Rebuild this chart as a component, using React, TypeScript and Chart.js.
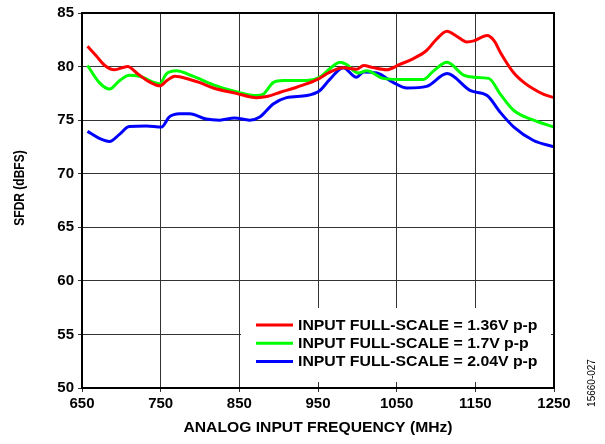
import React, { useEffect, useRef } from "react";
import { Chart, registerables } from "chart.js";

Chart.register(...registerables);

const xTicks = [650, 750, 850, 950, 1050, 1150, 1250];
const yTicks = [50, 55, 60, 65, 70, 75, 80, 85];

const xTitle = "ANALOG INPUT FREQUENCY (MHz)";
const yTitle = "SFDR (dBFS)";
const figureId = "15660-027";

const seriesLabels = [
  "INPUT FULL-SCALE = 1.36V p-p",
  "INPUT FULL-SCALE = 1.7V p-p",
  "INPUT FULL-SCALE = 2.04V p-p",
];
const seriesColors = ["#ff0000", "#00ff00", "#0000ff"];

const redFreq = [657, 668, 679, 691, 708, 721, 735, 749, 758, 768, 787, 800, 817, 846, 872, 885, 902, 920, 936, 952, 963, 982, 999, 1008, 1020, 1037, 1054, 1070, 1088, 1100, 1114, 1127, 1139, 1148, 1165, 1174, 1182, 1199, 1212, 1224, 1237, 1250];
const redSfdr = [81.9, 81.0, 80.1, 79.7, 80.0, 79.3, 78.6, 78.2, 78.7, 79.1, 78.8, 78.5, 78.0, 77.5, 77.1, 77.2, 77.6, 78.0, 78.4, 78.9, 79.4, 79.9, 79.75, 80.1, 79.9, 79.7, 80.2, 80.7, 81.5, 82.5, 83.3, 82.8, 82.3, 82.4, 82.9, 82.4, 81.3, 79.4, 78.5, 77.9, 77.4, 77.1];

const greenFreq = [657, 672, 685, 698, 710, 723, 749, 757, 770, 791, 817, 846, 872, 880, 893, 906, 936, 952, 965, 978, 986, 1001, 1012, 1033, 1054, 1084, 1097, 1114, 1135, 1148, 1167, 1182, 1199, 1224, 1250];
const greenSfdr = [80.1, 78.5, 77.9, 78.7, 79.2, 79.1, 78.4, 79.3, 79.6, 79.1, 78.3, 77.65, 77.3, 77.4, 78.5, 78.7, 78.7, 79.0, 79.8, 80.4, 80.2, 79.4, 79.6, 78.9, 78.8, 78.8, 79.6, 80.4, 79.2, 79.0, 78.9, 77.4, 75.9, 75.0, 74.35];

const blueFreq = [657, 672, 685, 698, 710, 732, 751, 761, 774, 787, 808, 825, 844, 863, 876, 893, 910, 936, 952, 965, 982, 999, 1008, 1025, 1046, 1063, 1088, 1114, 1144, 1165, 1182, 1199, 1224, 1250];
const blueSfdr = [73.95, 73.3, 73.0, 73.7, 74.4, 74.45, 74.35, 75.3, 75.6, 75.6, 75.1, 75.0, 75.2, 75.0, 75.3, 76.5, 77.1, 77.3, 77.75, 78.8, 79.9, 79.0, 79.5, 79.4, 78.5, 78.0, 78.15, 79.35, 77.75, 77.3, 75.7, 74.35, 73.1, 72.5];

const FONT = "'Liberation Sans', Arial, sans-serif";

const toPoints = (fx: number[], fy: number[]) => fx.map((x, i) => ({ x, y: fy[i] }));

const overlayPlugin = {
  id: "overlay",
  afterDatasetsDraw(chart: any) {
    const { ctx, chartArea } = chart;
    const { left, right, top, bottom } = chartArea;
    ctx.save();
    // legend box
    const bx = 241, by = 308, bw = right - 3 - bx, bh = 74;
    ctx.fillStyle = "#ffffff";
    ctx.fillRect(bx, by, bw, bh);
    ctx.textBaseline = "middle";
    ctx.textAlign = "left";
    seriesLabels.forEach((lab, i) => {
      const y = 325 + i * 18.3;
      ctx.strokeStyle = seriesColors[i];
      ctx.lineWidth = 3;
      ctx.beginPath();
      ctx.moveTo(256, y);
      ctx.lineTo(293, y);
      ctx.stroke();
      ctx.save();
      ctx.translate(298, y + 1);
      ctx.scale(1.13, 1);
      ctx.font = `bold 14px ${FONT}`;
      ctx.fillStyle = "#000";
      ctx.fillText(lab, 0, 0);
      ctx.restore();
    });
    // frame
    ctx.strokeStyle = "#000";
    ctx.lineWidth = 2;
    ctx.strokeRect(left, top, right - left, bottom - top);
    ctx.fillStyle = "#000";
    // x title
    ctx.save();
    ctx.translate((left + right) / 2, 428);
    ctx.scale(1.12, 1);
    ctx.font = `bold 14px ${FONT}`;
    ctx.textAlign = "center";
    ctx.fillText(xTitle, 0, 0);
    ctx.restore();
    // y title
    ctx.save();
    ctx.translate(20, 188);
    ctx.scale(1.17, 1);
    ctx.rotate(-Math.PI / 2);
    ctx.font = `bold 12px ${FONT}`;
    ctx.textAlign = "center";
    ctx.fillText(yTitle, 0, 0);
    ctx.restore();
    // figure id
    ctx.save();
    ctx.translate(592, 383);
    ctx.rotate(-Math.PI / 2);
    ctx.font = `10px ${FONT}`;
    ctx.textAlign = "center";
    ctx.fillText(figureId, 0, 0);
    ctx.restore();
    ctx.restore();
  },
};

export default function App() {
  const ref = useRef<HTMLCanvasElement>(null);
  useEffect(() => {
    if (!ref.current) return;
    const chart = new Chart(ref.current, {
      type: "line",
      data: {
        datasets: [
          { label: seriesLabels[0], data: toPoints(redFreq, redSfdr), borderColor: seriesColors[0] },
          { label: seriesLabels[1], data: toPoints(greenFreq, greenSfdr), borderColor: seriesColors[1] },
          { label: seriesLabels[2], data: toPoints(blueFreq, blueSfdr), borderColor: seriesColors[2] },
        ].map((d) => ({
          ...d,
          borderWidth: 3,
          pointRadius: 0,
          fill: false,
          tension: 0.4,
          cubicInterpolationMode: "monotone" as const,
        })),
      },
      plugins: [overlayPlugin],
      options: {
        responsive: false,
        animation: false,
        layout: { padding: { left: 0, top: 10, right: 51, bottom: 0 } },
        plugins: { legend: { display: false }, tooltip: { enabled: false } },
        scales: {
          x: {
            type: "linear",
            min: 650,
            max: 1250,
            afterBuildTicks: (s: any) => {
              s.ticks = xTicks.map((v) => ({ value: v }));
            },
            afterFit: (s: any) => {
              s.height = 56;
            },
            grid: { color: "#333", lineWidth: 1, tickLength: 4 },
            border: { color: "#000", width: 2 },
            ticks: {
              color: "#000",
              font: { family: FONT, size: 15, weight: "bold" },
              padding: 3,
              maxRotation: 0,
              callback: (v: any) => String(v),
            },
          },
          y: {
            min: 50,
            max: 85,
            afterBuildTicks: (s: any) => {
              s.ticks = yTicks.map((v) => ({ value: v }));
            },
            afterFit: (s: any) => {
              s.width = 82;
            },
            grid: { color: "#333", lineWidth: 1, tickLength: 4 },
            border: { color: "#000", width: 2 },
            ticks: {
              color: "#000",
              font: { family: FONT, size: 15, weight: "bold" },
              padding: 4,
              callback: (v: any) => String(v),
            },
          },
        },
      },
    });
    return () => chart.destroy();
  }, []);
  return (
    <div style={{ position: "fixed", left: 0, top: 0, width: 605, height: 444, background: "#fff" }}>
      <canvas ref={ref} width={605} height={444} style={{ width: 605, height: 444 }} />
    </div>
  );
}
